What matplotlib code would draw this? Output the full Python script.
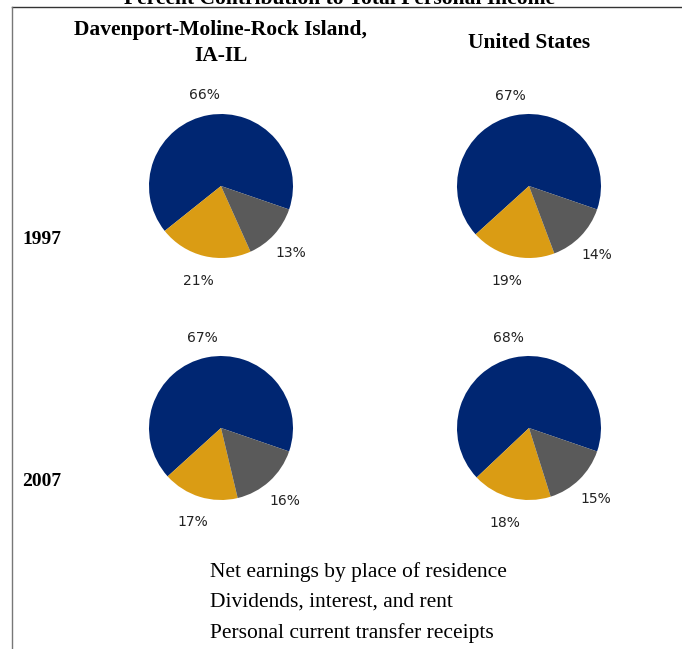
import matplotlib.pyplot as plt

# shares of total personal income (percent)
components = ["Net earnings by place of residence",
              "Dividends, interest, and rent",
              "Personal current transfer receipts"]
colors = ["#002672", "#DA9C14", "#5A5A5A"]

regions = ["Davenport-Moline-Rock Island,\nIA-IL", "United States"]
years = ["1997", "2007"]
shares = {
    ("1997", 0): [66, 21, 13],
    ("1997", 1): [67, 19, 14],
    ("2007", 0): [67, 17, 16],
    ("2007", 1): [68, 18, 15],
}

W, H = 682, 649
fig = plt.figure(figsize=(W / 100, H / 100), dpi=100)
ax = fig.add_axes([0, 0, 1, 1])

serif = "Liberation Serif"
sans = "DejaVu Sans"

def py(y):
    # pixel row from top -> data y
    return H - y

col_x = [221, 529]
row_y = [186, 428]

for r, year in enumerate(years):
    for c in range(2):
        vals = shares[(year, c)]
        wedges, texts = ax.pie(vals, colors=colors, labels=[f"{v}%" for v in vals],
                               startangle=-19, counterclock=True, radius=72,
                               center=(col_x[c], py(row_y[r])), labeldistance=1.32,
                               frame=True, wedgeprops=dict(linewidth=0),
                               textprops=dict(fontsize=10, family=sans, color="#222222"))
        for t in texts:
            t.set_ha("center")
            t.set_va("center")
            x, y = t.get_position()
            t.set_position((x, y - 3))
    ax.text(22, py(row_y[r] + 54), year, fontsize=14, family=serif,
            fontweight="bold", ha="left", va="center")

for c, name in enumerate(regions):
    ax.text(col_x[c], py(43), name, fontsize=15.5, family=serif, fontweight="bold",
            ha="center", va="center", linespacing=1.4)

ax.text(340, py(4), "Percent Contribution to Total Personal Income", fontsize=15.5,
        family=serif, fontweight="bold", ha="center", va="baseline")

for i, name in enumerate(components):
    ax.text(210, py(572 + 30.5 * i), name, fontsize=15.5, family=serif,
            ha="left", va="center")

# outer frame (top and left edges)
ax.plot([12, W], [py(7), py(7)], color="#333333", lw=1)
ax.plot([12, 12], [0, py(7)], color="#777777", lw=1)

ax.set_xlim(0, W)
ax.set_ylim(0, H)
ax.set_aspect("auto")
ax.axis("off")

fig.savefig("out.png", dpi=100)
